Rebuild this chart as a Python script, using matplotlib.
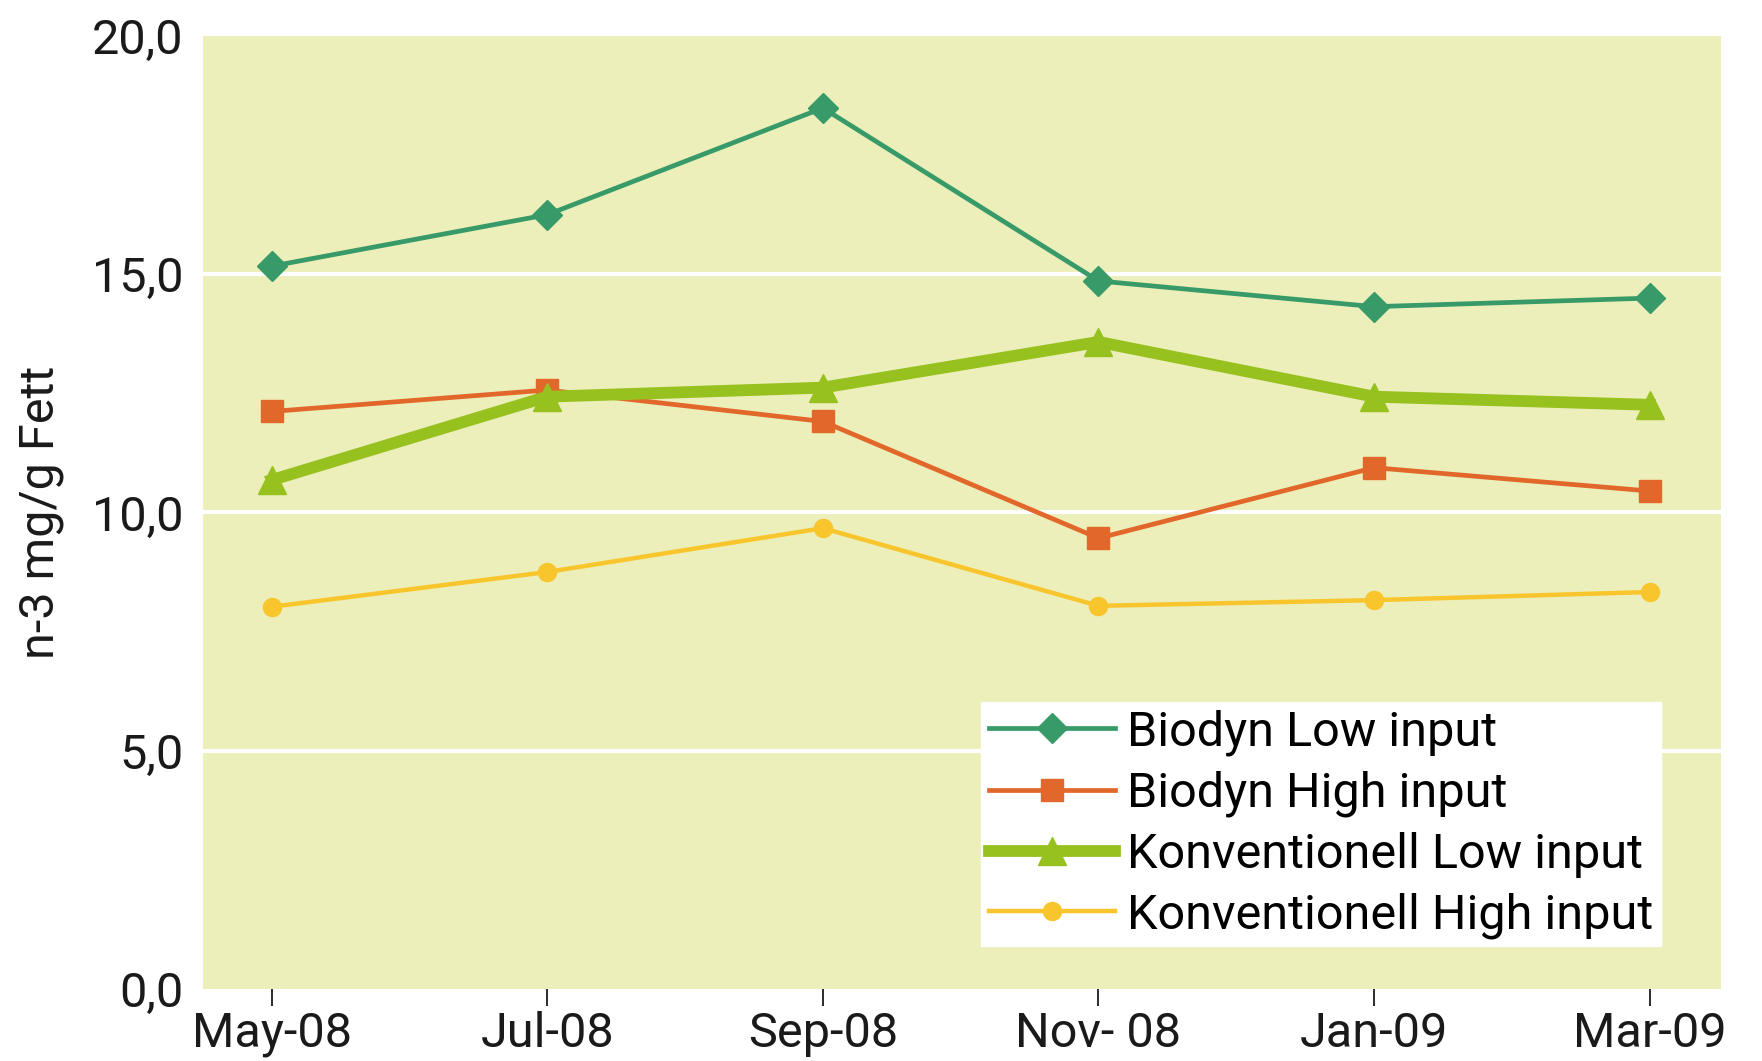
import matplotlib
matplotlib.use("Agg")
import matplotlib.pyplot as plt
from matplotlib import font_manager
from matplotlib.ticker import FuncFormatter

months = ["May-08", "Jul-08", "Sep-08", "Nov- 08", "Jan-09", "Mar-09"]
biodyn_low = [15.17, 16.25, 18.49, 14.86, 14.32, 14.50]
biodyn_high = [12.12, 12.57, 11.91, 9.46, 10.94, 10.45]
konv_low = [10.68, 12.43, 12.62, 13.58, 12.43, 12.26]
konv_high = [8.02, 8.75, 9.67, 8.04, 8.16, 8.33]
labels = ["Biodyn Low input", "Biodyn High input",
          "Konventionell Low input", "Konventionell High input"]

avail = {f.name for f in font_manager.fontManager.ttflist}
cands = ["Roboto", "Liberation Sans", "DejaVu Sans"]
fam = [c for c in cands if c in avail][0]
plt.rcParams['font.family'] = [fam, 'DejaVu Sans']

fig = plt.figure(figsize=(17.62, 10.61), dpi=100)
ax = fig.add_axes([0.115, 0.068, 0.862, 0.898])
ax.set_facecolor("#ecefb9")

x = list(range(len(months)))
ax.plot(x, biodyn_low, color="#389a68", lw=3.4, marker="D", ms=15, label=labels[0], zorder=4)
ax.plot(x, biodyn_high, color="#e2672a", lw=3.4, marker="s", ms=16, label=labels[1], zorder=3)
ax.plot(x, konv_low, color="#97c11f", lw=8.5, marker="^", ms=20, label=labels[2], zorder=3)
ax.plot(x, konv_high, color="#f8c52c", lw=3.2, marker="o", ms=13, label=labels[3], zorder=3)

ax.set_ylim(0, 20)
ax.set_xlim(-0.25, 5.26)
ax.set_yticks([0, 5, 10, 15, 20])
ax.yaxis.set_major_formatter(FuncFormatter(lambda v, p: f"{v:.1f}".replace(".", ",")))
ax.set_xticks(x)
ax.set_xticklabels(months)
for y in [5, 10, 15]:
    ax.axhline(y, color="white", lw=3, zorder=1)

for s in ax.spines.values():
    s.set_visible(False)
ax.tick_params(axis="y", length=0, pad=14, labelsize=35, colors="#1a1a1a")
ax.tick_params(axis="x", length=12, width=1.3, pad=4, labelsize=35, colors="#1a1a1a", direction="out")

ax.set_ylabel("n-3 mg/g Fett", fontsize=35, color="#1a1a1a", labelpad=20)

leg = ax.legend(loc="lower right", bbox_to_anchor=(0.960, 0.045), fontsize=35,
                frameon=True, fancybox=False, framealpha=1, edgecolor="white",
                handlelength=2.6, handletextpad=0.25, borderpad=0.15, labelspacing=0.3,
                borderaxespad=0)
leg.get_frame().set_facecolor("white")

fig.savefig("out.png", dpi=100)
